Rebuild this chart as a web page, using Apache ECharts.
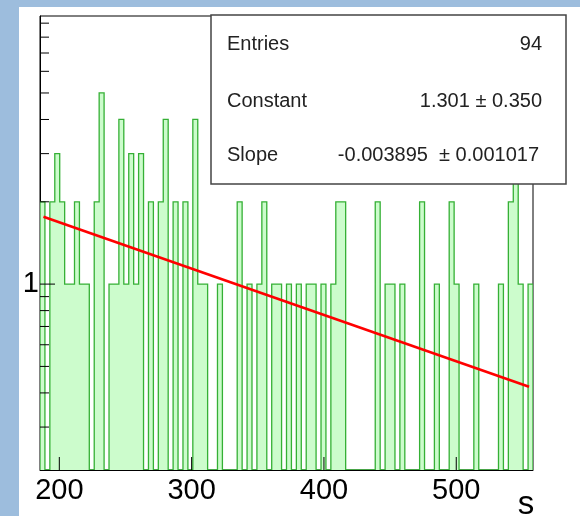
<!DOCTYPE html>
<html>
<head>
<meta charset="utf-8">
<script src="https://cdn.jsdelivr.net/npm/echarts@6/dist/echarts.min.js"></script>
<style>
html,body{margin:0;padding:0;background:#9dbddd;}
#c{width:580px;height:516px;}
</style>
</head>
<body>
<div id="c"></div>
<script>
// ---- data ----
const xMin = 185.4, xMax = 558, nBins = 100;
const binCounts = [
 2,0,2,3,2,1,1,2,1,1,
 0,2,5,0,1,1,4,1,3,1,
 3,0,2,0,2,4,0,2,0,2,
 0,4,1,1,0,0,1,0,0,0,
 2,0,1,0,1,2,0,1,1,0,
 1,0,1,0,1,1,0,1,0,1,
 2,2,0,0,0,0,0,0,2,0,
 1,1,0,1,0,0,0,2,0,0,
 1,0,0,2,1,0,0,0,1,0,
 0,0,0,1,0,2,4,1,0,1
];
const yMin = 0.209, yMax = 9.56;
const xTickValues = [200, 300, 400, 500];
const yMajorTicks = [1];
const yMinorTicks = [0.3,0.4,0.5,0.6,0.7,0.8,0.9,2,3,4,5,6,7,8,9];
const fitX = [188, 555];
const fitY = [1.763, 0.421];
const statsLabels = ['Entries', 'Constant', 'Slope'];
const statsValues = ['94', '1.301 \u00b1 0.350', '-0.003895  \u00b1 0.001017'];
const xTitle = 's';

const FONT = '"Liberation Sans", Arial, sans-serif';
const chart = echarts.init(document.getElementById('c'), null, {renderer: 'canvas'});
const binW = (xMax - xMin) / nBins;

const option = {
  animation: false,
  backgroundColor: 'transparent',
  grid: {left: 40, top: 16, right: 47, bottom: 46, show: true, borderColor: '#000', borderWidth: 1, backgroundColor: 'transparent'},
  xAxis: {
    type: 'value', min: xMin, max: xMax,
    axisLine: {lineStyle: {color: '#000', width: 1}},
    axisTick: {show: false},
    axisLabel: {customValues: xTickValues, fontFamily: FONT, fontSize: 29, color: '#000', margin: 6},
    splitLine: {show: false}
  },
  yAxis: {
    type: 'log', logBase: 10, min: yMin, max: yMax,
    axisLine: {lineStyle: {color: '#000', width: 1}},
    axisTick: {show: false},
    axisLabel: {customValues: yMajorTicks, fontFamily: FONT, fontSize: 29, color: '#000', margin: 1},
    splitLine: {show: false}
  },
  graphic: [
    {type: 'rect', z: -10, silent: true, shape: {x: 19, y: 7, width: 561, height: 509}, style: {fill: '#fff'}},
    {type: 'rect', z: 100, shape: {x: 211, y: 15, width: 355, height: 169}, style: {fill: '#fff', stroke: '#444', lineWidth: 1.5}},
    {type: 'text', z: 101, x: 227, y: 44, style: {text: statsLabels[0], font: '20px ' + FONT, fill: '#222', textVerticalAlign: 'middle'}},
    {type: 'text', z: 101, x: 227, y: 101, style: {text: statsLabels[1], font: '20px ' + FONT, fill: '#222', textVerticalAlign: 'middle'}},
    {type: 'text', z: 101, x: 227, y: 155, style: {text: statsLabels[2], font: '20px ' + FONT, fill: '#222', textVerticalAlign: 'middle'}},
    {type: 'text', z: 101, x: 542, y: 44, style: {text: statsValues[0], font: '20px ' + FONT, fill: '#222', textAlign: 'right', textVerticalAlign: 'middle'}},
    {type: 'text', z: 101, x: 542, y: 101, style: {text: statsValues[1], font: '20px ' + FONT, fill: '#222', textAlign: 'right', textVerticalAlign: 'middle'}},
    {type: 'text', z: 101, x: 539, y: 155, style: {text: statsValues[2], font: '20px ' + FONT, fill: '#222', textAlign: 'right', textVerticalAlign: 'middle'}},
    {type: 'text', z: 101, x: 526, y: 505, style: {text: xTitle, font: '33px ' + FONT, fill: '#000', textAlign: 'center', textVerticalAlign: 'middle'}}
  ],
  series: [
    {
      type: 'custom', coordinateSystem: 'cartesian2d', clip: true, z: 2,
      data: [[xMin, yMin]],
      renderItem: function (params, api) {
        const pts = [api.coord([xMin, yMin])];
        for (let i = 0; i < nBins; i++) {
          const lo = xMin + i * binW, hi = lo + binW;
          const v = binCounts[i] > 0 ? binCounts[i] : yMin;
          pts.push(api.coord([lo, v]));
          pts.push(api.coord([hi, v]));
        }
        pts.push(api.coord([xMax, yMin]));
        return {
          type: 'group',
          children: [
            {type: 'polygon', shape: {points: pts}, style: {fill: '#ccfccc', stroke: null}},
            {type: 'polyline', shape: {points: pts}, style: {fill: null, stroke: '#35b035', lineWidth: 1.3}}
          ]
        };
      }
    },
    {
      // y-axis ticks (inside, pointing right)
      type: 'custom', coordinateSystem: 'cartesian2d', clip: false, z: 6,
      data: yMinorTicks.map(v => [xMin, v, 9]).concat(yMajorTicks.map(v => [xMin, v, 15])),
      renderItem: function (params, api) {
        const p = api.coord([api.value(0), api.value(1)]);
        const len = api.value(2);
        return {type: 'line', shape: {x1: p[0], y1: p[1], x2: p[0] + len, y2: p[1]}, style: {stroke: '#000', lineWidth: 1}};
      }
    },
    {
      // x-axis ticks (inside, pointing up)
      type: 'custom', coordinateSystem: 'cartesian2d', clip: false, z: 6,
      data: xTickValues.map(v => [v, yMin, 13]),
      renderItem: function (params, api) {
        const p = api.coord([api.value(0), api.value(1)]);
        const len = api.value(2);
        return {type: 'line', shape: {x1: p[0], y1: p[1], x2: p[0], y2: p[1] - len}, style: {stroke: '#000', lineWidth: 1}};
      }
    },
    {
      type: 'line', z: 5, symbol: 'none', silent: true,
      data: fitX.map((x, i) => [x, fitY[i]]),
      lineStyle: {color: '#ff0000', width: 2.6}
    }
  ]
};
chart.setOption(option);
</script>
</body>
</html>
